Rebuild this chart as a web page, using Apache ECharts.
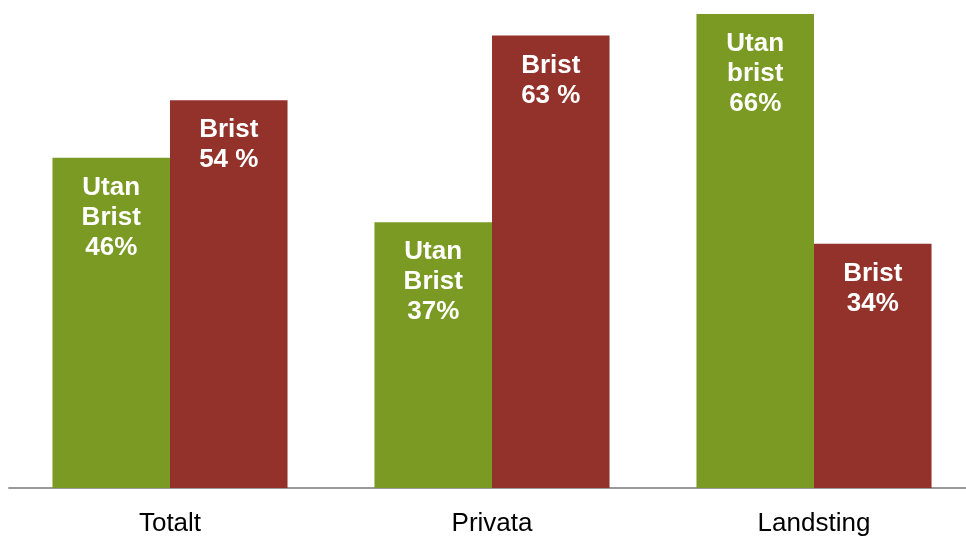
<!DOCTYPE html>
<html><head><meta charset="utf-8">
<script src="https://cdn.jsdelivr.net/npm/echarts@6/dist/echarts.min.js"></script>
<style>html,body{margin:0;padding:0;background:#fff}#c{width:966px;height:539px}</style>
</head><body><div id="c"></div>
<script>
const categories = ['Totalt', 'Privata', 'Landsting'];
const utanValues = [46, 37, 66];
const bristValues = [54, 63, 34];
const utanLabels = ['Utan\nBrist\n46%', 'Utan\nBrist\n37%', 'Utan\nbrist\n66%'];
const bristLabels = ['Brist\n54 %', 'Brist\n63 %', 'Brist\n34%'];

const labelStyle = {
  show: true, position: 'insideTop', distance: 15,
  color: '#fff', fontFamily: 'Liberation Sans, Arial, sans-serif',
  fontWeight: 'bold', fontSize: 26, lineHeight: 30
};
const chart = echarts.init(document.getElementById('c'));
chart.setOption({
  animation: false,
  grid: { left: 9, width: 966, top: 14, bottom: 51, outerBoundsMode: 'none', containLabel: false },
  xAxis: {
    type: 'category', data: categories,
    axisLine: { lineStyle: { color: '#999', width: 2 } },
    axisTick: { show: false },
    axisLabel: { color: '#000', fontSize: 26, fontFamily: 'Liberation Sans, Arial, sans-serif', margin: 23 }
  },
  yAxis: { type: 'value', min: 0, max: 66, show: false, splitLine: { show: false } },
  series: [
    { type: 'bar', data: utanValues, barGap: '0%', barCategoryGap: '27%',
      itemStyle: { color: '#7A9A24' },
      label: Object.assign({}, labelStyle, { formatter: p => utanLabels[p.dataIndex] }) },
    { type: 'bar', data: bristValues,
      itemStyle: { color: '#93312B' },
      label: Object.assign({}, labelStyle, { formatter: p => bristLabels[p.dataIndex] }) }
  ]
});
</script></body></html>
